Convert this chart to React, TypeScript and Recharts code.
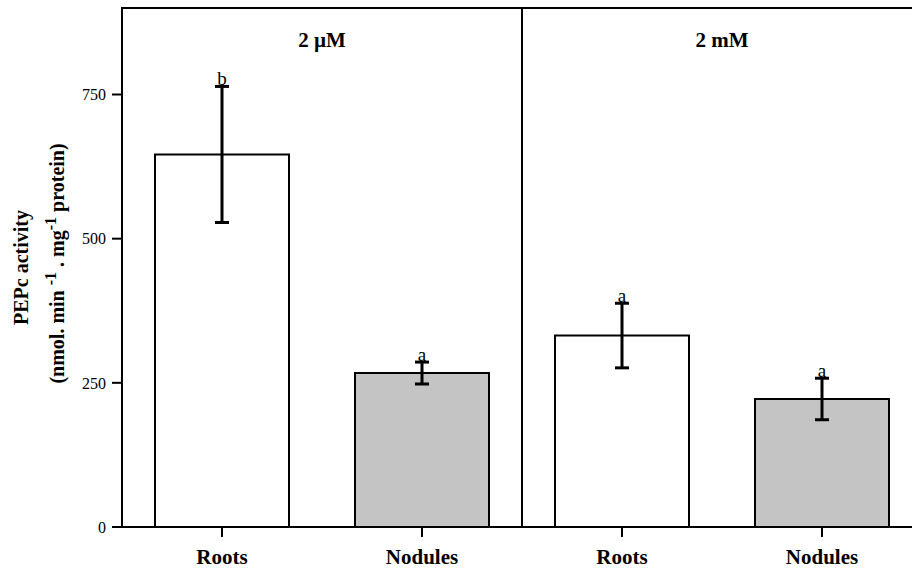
import React from "react";
import {
  ComposedChart,
  Bar,
  Line,
  XAxis,
  YAxis,
  ErrorBar,
  Cell,
  LabelList,
  ReferenceArea,
  Label,
} from "recharts";

// values (PEPc activity, mean ± error)
const CATEGORY_KEYS = ["roots_uM", "nodules_uM", "roots_mM", "nodules_mM"];
const CATEGORIES = ["Roots", "Nodules", "Roots", "Nodules"];
const ACTIVITY = [646, 267, 332, 222];
const ACTIVITY_ERR = [118, 19, 56, 36];
const LETTERS = ["b", "a", "a", "a"];
const PANELS = ["2 µM", "2 mM"];
const Y_TICKS = [0, 250, 500, 750];

const FONT = '"Liberation Serif", "Times New Roman", serif';
const FILLS = ["#ffffff", "#c4c4c4", "#ffffff", "#c4c4c4"];

const data = CATEGORY_KEYS.map((key, i) => ({
  key,
  mean: ACTIVITY[i],
  err: ACTIVITY_ERR[i],
  top: ACTIVITY[i] + ACTIVITY_ERR[i],
  letter: LETTERS[i],
}));

const YTitle = (props: any) => {
  const cy = props.viewBox ? props.viewBox.y + props.viewBox.height / 2 : 267;
  return (
    <g fontFamily={FONT} fontWeight="bold" fontSize={20} fill="#000">
      <text x={28} y={cy} textAnchor="middle" transform={`rotate(-90, 28, ${cy})`}>
        PEPc activity
      </text>
      <text x={64} y={cy - 4} textAnchor="middle" transform={`rotate(-90, 64, ${cy - 4})`}>
        <tspan>(nmol. min </tspan>
        <tspan dy={-8} fontSize={16}>-1</tspan>
        <tspan dy={8}> . mg</tspan>
        <tspan dy={-8} fontSize={16}>-1</tspan>
        <tspan dy={8}> protein)</tspan>
      </text>
    </g>
  );
};

export default function App() {
  return (
    <div
      style={{
        position: "fixed",
        left: 0,
        top: 0,
        width: 912,
        height: 571,
        overflow: "hidden",
        background: "#fff",
      }}
    >
      <ComposedChart
        width={930}
        height={571}
        data={data}
        margin={{ top: 8, right: 8, bottom: 0, left: 62 }}
        barCategoryGap={33}
      >
        <XAxis
          dataKey="key"
          height={44}
          tickFormatter={(v: string) => CATEGORIES[CATEGORY_KEYS.indexOf(v)]}
          axisLine={{ stroke: "#000", strokeWidth: 2 }}
          tickLine={{ stroke: "#000", strokeWidth: 2 }}
          tickSize={10}
          tickMargin={12}
          tick={{ fill: "#000", fontSize: 21, fontWeight: "bold", fontFamily: FONT }}
        />
        <YAxis
          width={60}
          domain={[0, 900]}
          ticks={Y_TICKS}
          axisLine={{ stroke: "#000", strokeWidth: 2 }}
          tickLine={{ stroke: "#000", strokeWidth: 2 }}
          tickSize={10}
          tickMargin={6}
          tick={{ fill: "#000", fontSize: 16, fontFamily: FONT }}
        >
          <Label content={YTitle} />
        </YAxis>

        {/* panel frames with concentration titles */}
        <ReferenceArea
          x1={CATEGORY_KEYS[0]}
          x2={CATEGORY_KEYS[1]}
          fill="none"
          stroke="#000"
          strokeWidth={2}
        >
          <Label
            value={PANELS[0]}
            position="insideTop"
            offset={24}
            fill="#000"
            fontSize={21}
            fontWeight="bold"
            fontFamily={FONT}
          />
        </ReferenceArea>
        <ReferenceArea
          x1={CATEGORY_KEYS[2]}
          x2={CATEGORY_KEYS[3]}
          fill="none"
          stroke="#000"
          strokeWidth={2}
        >
          <Label
            value={PANELS[1]}
            position="insideTop"
            offset={24}
            fill="#000"
            fontSize={21}
            fontWeight="bold"
            fontFamily={FONT}
          />
        </ReferenceArea>

        <Bar dataKey="mean" stroke="#000" strokeWidth={2} isAnimationActive={false}>
          {data.map((_, i) => (
            <Cell key={i} fill={FILLS[i]} />
          ))}
          <ErrorBar dataKey="err" direction="y" width={7} stroke="#000" strokeWidth={3} />
        </Bar>

        {/* significance letters above the error caps */}
        <Line
          dataKey="top"
          stroke="none"
          dot={false}
          activeDot={false}
          legendType="none"
          isAnimationActive={false}
        >
          <LabelList
            dataKey="letter"
            position="top"
            offset={1}
            fill="#000"
            fontSize={19}
            fontFamily={FONT}
          />
        </Line>
      </ComposedChart>
    </div>
  );
}
